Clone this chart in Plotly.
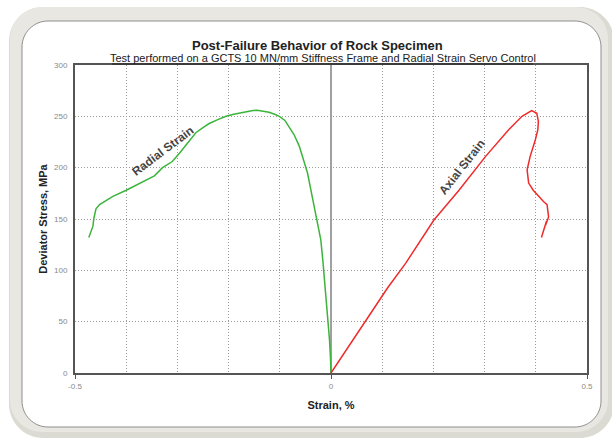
import plotly.graph_objects as go

# ---- data ----
radial_x = [-0.473, -0.468, -0.465, -0.463, -0.459, -0.452, -0.446, -0.436, -0.426, -0.400,
            -0.368, -0.345, -0.329, -0.310, -0.296, -0.280, -0.264, -0.250, -0.238, -0.220,
            -0.205, -0.190, -0.173, -0.155, -0.144, -0.132, -0.121, -0.110, -0.101, -0.090,
            -0.082, -0.072, -0.062, -0.054, -0.046, -0.040, -0.033, -0.026, -0.020, -0.016,
            -0.012, -0.009, -0.005, -0.003, -0.001, 0.0]
radial_y = [132, 138, 143, 151, 160, 164, 166, 169, 172, 178,
            186, 192, 200, 206, 214, 224, 234, 239, 243, 247,
            250, 252, 254, 255.5, 256, 255, 254, 252, 250, 246,
            240, 232, 221, 208, 195, 180, 162, 146, 130, 110,
            87, 71, 50, 33, 15, 0]

axial_x = [0.0, 0.05, 0.11, 0.146, 0.201, 0.25, 0.302, 0.347, 0.362, 0.373, 0.392, 0.402, 0.405,
           0.404, 0.399, 0.389, 0.383, 0.386, 0.395, 0.405, 0.415, 0.422, 0.425, 0.419, 0.421, 0.411]
axial_y = [0, 37, 82.5, 107, 149, 178, 211, 237, 245, 250, 255.5, 253, 245,
           237, 227, 211, 198, 185, 178, 172, 167, 164, 152, 144, 148, 132]

title_text = "Post-Failure Behavior of Rock Specimen"
subtitle_text = "Test performed on a GCTS 10 MN/mm Stiffness Frame and Radial Strain Servo Control"
x_title = "Strain, %"
y_title = "Deviator Stress, MPa"
x_tickvals = [-0.5, 0, 0.5]
x_ticktext = ["-0.5", "0", "0.5"]
y_tickvals = [0, 50, 100, 150, 200, 250, 300]

# ---- layout geometry (pixels) ----
W, H = 612, 439
L, R, T, B = 75, 25, 65, 66
PW, PH = W - L - R, H - T - B

def px(xp):
    return (xp - L) / PW

def py(yp):
    return (H - B - yp) / PH

def rrect(x0, y0, x1, y1, r):
    k = 0.45
    s = f"M {px(x0 + r)},{py(y0)} L {px(x1 - r)},{py(y0)} "
    s += f"C {px(x1 - r * k)},{py(y0)} {px(x1)},{py(y0 + r * k)} {px(x1)},{py(y0 + r)} "
    s += f"L {px(x1)},{py(y1 - r)} "
    s += f"C {px(x1)},{py(y1 - r * k)} {px(x1 - r * k)},{py(y1)} {px(x1 - r)},{py(y1)} "
    s += f"L {px(x0 + r)},{py(y1)} "
    s += f"C {px(x0 + r * k)},{py(y1)} {px(x0)},{py(y1 - r * k)} {px(x0)},{py(y1 - r)} "
    s += f"L {px(x0)},{py(y0 + r)} "
    s += f"C {px(x0)},{py(y0 + r * k)} {px(x0 + r * k)},{py(y0)} {px(x0 + r)},{py(y0)} Z"
    return s

FONT = "Liberation Sans, Arial, sans-serif"
GRID = "#9a9a9a"
DOT = "1px,2px"

fig = go.Figure()
fig.add_trace(go.Scatter(x=radial_x, y=radial_y, mode="lines",
                         line=dict(color="#3cb43c", width=1.5), hoverinfo="skip"))
fig.add_trace(go.Scatter(x=axial_x, y=axial_y, mode="lines",
                         line=dict(color="#ee2b2b", width=1.5), hoverinfo="skip"))

shapes = [
    dict(type="path", xref="paper", yref="paper", path=rrect(9, 7, 614, 438, 34),
         fillcolor="#dcdbd3", line=dict(width=0), layer="below"),
    dict(type="path", xref="paper", yref="paper", path=rrect(10, 7, 608, 432, 32),
         fillcolor="#e8e7e1", line=dict(width=0), layer="below"),
    dict(type="path", xref="paper", yref="paper", path=rrect(22, 21, 601, 427, 26),
         fillcolor="white", line=dict(color="#8f8f8f", width=1), layer="below"),
    dict(type="line", xref="paper", yref="paper", x0=px(112), x1=px(533), y0=py(64), y1=py(64),
         line=dict(color="#222", width=1)),
]

annotations = [
    dict(xref="paper", yref="paper", x=px(317), y=py(45), text=f"<b>{title_text}</b>",
         showarrow=False, font=dict(family=FONT, size=13, color="#222"),
         xanchor="center", yanchor="middle"),
    dict(xref="paper", yref="paper", x=px(322.5), y=py(57.5), text=subtitle_text,
         showarrow=False, font=dict(family=FONT, size=11, color="#1a1a1a"),
         xanchor="center", yanchor="middle"),
    dict(x=-0.329, y=216.5, text="<b>Radial Strain</b>", textangle=-37, showarrow=False,
         font=dict(family=FONT, size=12, color="#444")),
    dict(x=0.256, y=200.5, text="<b>Axial Strain</b>", textangle=-52, showarrow=False,
         font=dict(family=FONT, size=12, color="#444")),
]

fig.update_layout(
    width=W, height=H,
    margin=dict(l=L, r=R, t=T, b=B, pad=0),
    paper_bgcolor="white",
    plot_bgcolor="rgba(0,0,0,0)",
    showlegend=False,
    shapes=shapes,
    annotations=annotations,
    font=dict(family=FONT),
    xaxis=dict(
        range=[-0.5, 0.5], tickvals=x_tickvals, ticktext=x_ticktext,
        ticks="outside", ticklen=4, tickcolor="#555",
        tickfont=dict(size=8, color="#8a8a8a"),
        showgrid=True, gridcolor=GRID, griddash=DOT, gridwidth=1,
        minor=dict(dtick=0.1, tick0=0, showgrid=True, gridcolor=GRID, griddash=DOT, gridwidth=1),
        zeroline=True, zerolinecolor="#a0a0a0", zerolinewidth=1.5,
        showline=True, linecolor="#555", linewidth=2, mirror=True,
        title=dict(text=f"<b>{x_title}</b>", font=dict(size=11, color="#222"), standoff=12),
        fixedrange=True,
    ),
    yaxis=dict(
        range=[0, 300], tickvals=y_tickvals, ticks="",
        tickfont=dict(size=8, color="#8a8a8a"), ticklabelstandoff=4,
        showgrid=True, gridcolor=GRID, griddash=DOT, gridwidth=1,
        zeroline=False,
        showline=True, linecolor="#555", linewidth=2, mirror=True,
        title=dict(text=f"<b>{y_title}</b>", font=dict(size=11, color="#222"), standoff=4),
        fixedrange=True,
    ),
)

fig.write_html("out.html", config={"displayModeBar": False},
               post_script="document.body.style.margin='0';document.body.style.overflow='hidden';")
